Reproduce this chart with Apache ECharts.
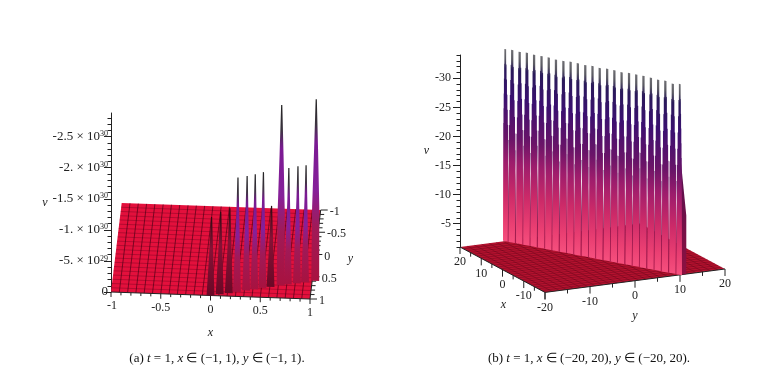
<!DOCTYPE html>
<html>
<head>
<meta charset="utf-8">
<style>html,body{margin:0;padding:0;background:#fff}#main{width:780px;height:385px}</style>
<script src="https://cdn.jsdelivr.net/npm/echarts@6/dist/echarts.min.js"></script>
</head>
<body>
<div id="main"></div>
<script>
// panel (a) values
var aPeakX = [0, 0.09, 0.18, 0.26, 0.35, 0.43, 0.51, 0.59, 0.69, 0.76, 0.85, 0.93, 1.03];
var aPeakY = [0.8, 0.76, 0.73, 0.7, 0.66, 0.63, 0.59, 0.56, 0.52, 0.49, 0.46, 0.43, 0.39];
var aPeakV = [-1.12e30, -1.18e30, -1.22e30, -1.7e30, -1.7e30, -1.71e30, -1.72e30, -1.16e30, -2.76e30, -1.73e30, -1.74e30, -1.74e30, -2.78e30];
var aVTicks = [-2.5e30, -2e30, -1.5e30, -1e30, -5e29, 0];
var aVLabels = ['{m|-2.5 × 10}{s|30}', '{m|-2. × 10}{s|30}', '{m|-1.5 × 10}{s|30}', '{m|-1. × 10}{s|30}', '{m|-5. × 10}{s|29}', '{m|0}'];
var aXTicks = [-1, -0.5, 0, 0.5, 1];
var aXLabels = ['-1', '-0.5', '0', '0.5', '1'];
var aYTicks = [-1, -0.5, 0, 0.5, 1];
var aYLabels = ['-1', '-0.5', '0', '0.5', '1'];

// panel (b) values
var bPeakX = [20, 18.3, 16.7, 15, 13.3, 11.7, 10, 8.3, 6.7, 5, 3.3, 1.7, 0, -1.7, -3.3, -5, -6.7, -8.3, -10, -11.7, -13.3, -15, -16.7, -18.3, -20];
var bPeakY = [-10, -9.2, -8.3, -7.5, -6.7, -5.8, -5, -4.2, -3.3, -2.5, -1.7, -0.8, 0, 0.8, 1.7, 2.5, 3.3, 4.2, 5, 5.8, 6.7, 7.5, 8.3, 9.2, 10];
var bPeakV = [-34, -34.1, -34, -34.1, -34, -34, -34, -33.9, -33.9, -34, -34, -33.9, -34, -33.9, -34, -34, -33.9, -34, -34, -34, -33.9, -33.8, -33.9, -33.6, -33.8];
var bValleyV = [-18.5, -17, -18, -17, -18.5, -17, -18, -16.5, -18, -16.5, -17.5, -16.5, -18, -16.5, -17.5, -16.5, -17.5, -16.5, -18, -16.5, -18, -16.5, -17.5, -17];
var bVTicks = [-30, -25, -20, -15, -10, -5];
var bVLabels = ['{n|-30}', '{n|-25}', '{n|-20}', '{n|-15}', '{n|-10}', '{n|-5}'];
var bXTicks = [20, 10, 0, -10, -20];
var bXLabels = ['20', '10', '0', '-10', '-20'];
var bYTicks = [-20, -10, 0, 10, 20];
var bYLabels = ['', '-10', '0', '10', '20'];

var serif = '"Liberation Serif", serif';
var LG = echarts.graphic.LinearGradient;

// oblique views: the grid gives x/y-to-pixel and v-to-pixel, the depth axis is a shear on top
function projA(api, x, y, v) {
    var p = api.coord([x, v]);
    var s = (1 - y) / 2, t = (x + 1) / 2;
    return [p[0] + s * 10.7, p[1] + t * 7 - s * 89];
}
function projB(api, x, y, v) {
    var p = api.coord([y, v]);
    var s = (20 - x) / 40, t = (y + 20) / 40;
    return [p[0] + s * 85, p[1] + s * 45.4 - t * 23.4];
}

function poly(points, fill) {
    return {type: 'polygon', shape: {points: points}, style: {fill: fill}};
}
function seg(a, b, color, w) {
    return {type: 'line', shape: {x1: a[0], y1: a[1], x2: b[0], y2: b[1]}, style: {stroke: color, lineWidth: w || 1, fill: null}};
}
function label(text, p, align, italic) {
    return {type: 'text', style: {
        text: text, x: p[0], y: p[1], fill: '#222',
        font: (italic ? 'italic ' : '') + '12px ' + serif,
        textAlign: align || 'center', textVerticalAlign: 'middle'
    }};
}

function floorItem(proj, x0, x1, y0, y1, vBase, nx, ny, fill, colX, colY) {
    return function (params, api) {
        var kids = [poly([proj(api, x0, y0, vBase), proj(api, x1, y0, vBase), proj(api, x1, y1, vBase), proj(api, x0, y1, vBase)], fill)];
        var i, f;
        for (i = 1; i < ny; i++) {
            f = y0 + (y1 - y0) * i / ny;
            kids.push(seg(proj(api, x0, f, vBase), proj(api, x1, f, vBase), colY, 1));
        }
        for (i = 1; i < nx; i++) {
            f = x0 + (x1 - x0) * i / nx;
            kids.push(seg(proj(api, f, y0, vBase), proj(api, f, y1, vBase), colX, 1));
        }
        return {type: 'group', children: kids};
    };
}

// x and y axes of panel (a): x along the front edge, y up the right edge
function axesA(params, api) {
    var kids = [], i, p;
    kids.push(seg(projA(api, -1, 1, 0), projA(api, 1, 1, 0), '#222', 1));
    kids.push(seg(projA(api, 1, 1, 0), projA(api, 1, -1, 0), '#222', 1));
    for (i = 0; i <= 20; i++) {
        p = projA(api, -1 + i * 0.1, 1, 0);
        kids.push(seg(p, [p[0], p[1] + (i % 5 ? 3 : 5)], '#222', 1));
        p = projA(api, 1, 1 - i * 0.1, 0);
        kids.push(seg(p, [p[0] + (i % 5 ? 4 : 7), p[1]], '#222', 1));
    }
    for (i = 0; i < aXTicks.length; i++) {
        p = projA(api, aXTicks[i], 1, 0);
        kids.push(label(aXLabels[i], [p[0] + (i ? 0 : 1), p[1] + 14]));
        p = projA(api, 1, aYTicks[i], 0);
        kids.push(label(aYLabels[i], [p[0] + 9, p[1] + 2], 'left'));
    }
    p = projA(api, 0, 1, 0);
    kids.push(label('x', [p[0], p[1] + 37], 'center', true));
    p = projA(api, 1, 0, 0);
    kids.push(label('y', [p[0] + 35, p[1] + 4], 'center', true));
    return {type: 'group', children: kids};
}

var aTallStops = [
    {offset: 0, color: '#a8123f'}, {offset: 0.3, color: '#a01a58'}, {offset: 0.5, color: '#86209a'},
    {offset: 0.76, color: '#7a1a92'}, {offset: 0.86, color: '#3c3440'}, {offset: 1, color: '#222'}
];
var aShortStops = [
    {offset: 0, color: '#6a0826'}, {offset: 0.6, color: '#861236'}, {offset: 1, color: '#2a0a10'}
];

function spikeA(params, api) {
    var x = api.value(0), y = api.value(1), v = api.value(2);
    var yb = y + 0.2, w = 0.04;
    var k = v < -2e30 ? 1.5 : 1;    // the two tallest are visibly fatter
    var tl = projA(api, x - 0.006, y, v), tr = projA(api, x + 0.006, y, v);
    var bl = projA(api, x - w, yb, 0), br = projA(api, x + w, yb, 0);
    var ml = projA(api, x - w * 0.6 * k, y + 0.1, v * 0.4), mr = projA(api, x + w * 0.6 * k, y + 0.1, v * 0.4);
    var ul = projA(api, x - w * 0.33 * k, y + 0.03, v * 0.72), ur = projA(api, x + w * 0.33 * k, y + 0.03, v * 0.72);
    var stops = v > -1.3e30 ? aShortStops : aTallStops;
    return poly([bl, ml, ul, tl, tr, ur, mr, br], new LG(0, 1, 0, 0, stops));
}

// x and y axes of panel (b): both run to the front corner
function axesB(params, api) {
    var kids = [], i, p, v0 = -1;
    kids.push(seg(projB(api, 20, -20, v0), projB(api, -20, -20, v0), '#222', 1));
    kids.push(seg(projB(api, -20, -20, v0), projB(api, -20, 20, v0), '#222', 1));
    for (i = 0; i <= 8; i++) {
        p = projB(api, 20 - i * 5, -20, v0);
        kids.push(seg(p, [p[0], p[1] + (i % 2 ? 4 : 7)], '#222', 1));
        p = projB(api, -20, -20 + i * 5, v0);
        kids.push(seg(p, [p[0], p[1] + (i % 2 ? 4 : 7)], '#222', 1));
    }
    for (i = 0; i < bXTicks.length; i++) {
        p = projB(api, bXTicks[i], -20, v0);
        kids.push(label(bXLabels[i], [p[0], p[1] + 15]));
        if (bYLabels[i]) {
            p = projB(api, -20, bYTicks[i], v0);
            kids.push(label(bYLabels[i], [p[0], p[1] + 15]));
        }
    }
    p = projB(api, 0, -20, v0);
    kids.push(label('x', [p[0] + 1, p[1] + 35], 'center', true));
    p = projB(api, -20, 0, v0);
    kids.push(label('y', [p[0], p[1] + 35], 'center', true));
    return {type: 'group', children: kids};
}

var bStops = [
    {offset: 0, color: '#f6507e'}, {offset: 0.1, color: '#ea3f72'}, {offset: 0.25, color: '#cc2a68'},
    {offset: 0.42, color: '#9c1c6c'}, {offset: 0.54, color: '#6a1468'}, {offset: 0.75, color: '#3a1070'},
    {offset: 0.9, color: '#2a1a5a'}, {offset: 0.95, color: '#5a5a62'}, {offset: 1, color: '#707074'}
];
var bSeamStops = [
    {offset: 0, color: 'rgba(165,20,70,0.9)'}, {offset: 0.5, color: 'rgba(105,15,75,0.85)'}, {offset: 1, color: 'rgba(60,15,90,0.75)'}
];
var bLightStops = [
    {offset: 0, color: 'rgba(255,190,205,0.45)'}, {offset: 1, color: 'rgba(240,150,190,0.12)'}
];

function spikeB(params, api) {
    var i = params.dataIndex;
    var x = api.value(0), y = api.value(1), v = api.value(2);
    var dx = 0.83, dy = 0.42, v0 = -1, steps = 6;
    var last = bValleyV.length;
    var vl = i > 0 ? bValleyV[i - 1] : v * 0.55;
    var vr = i < last ? bValleyV[i] : v * 0.55;
    // the two end spikes have no neighbour, so their outer side stays narrow
    var dl = i > 0 ? dx : dx * 0.55;
    var dr = i < last ? dx : dx * 0.55;
    var left = [projB(api, x + dl, y - dl / 2, v0)], right = [projB(api, x - dr, y + dr / 2, v0)];
    var k, f, wl, wr, vA, vB, vC, vD;
    // staircase profile from the valley up to the tip, one step per mesh row
    for (k = 0; k < steps; k++) {
        f = k / steps;
        wl = dl * (0.88 - 0.68 * f);
        wr = dr * (0.88 - 0.68 * f);
        vA = vl + (v - vl) * f;
        vB = vl + (v - vl) * (k + 1) / steps;
        vC = vr + (v - vr) * f;
        vD = vr + (v - vr) * (k + 1) / steps;
        left.push(projB(api, x + wl, y - wl / 2, vA), projB(api, x + wl, y - wl / 2, vB));
        right.push(projB(api, x - wr, y + wr / 2, vC), projB(api, x - wr, y + wr / 2, vD));
    }
    var pts = left.concat(right.reverse());
    var kids = [poly(pts, new LG(0, 1, 0, 0, bStops))];
    if (i < last) {
        kids.push(poly([
            projB(api, x - dx * 1.28, y + dy * 1.28, v0),
            projB(api, x - dx * 0.92, y + dy * 0.92, vr),
            projB(api, x - dx * 1.08, y + dy * 1.08, vr),
            projB(api, x - dx * 0.72, y + dy * 0.72, v0)
        ], new LG(0, 1, 0, 0, bSeamStops)));
        kids.push(poly([
            projB(api, x - dx * 1.5, y + dy * 1.5, v0),
            projB(api, x - dx * 1.1, y + dy * 1.1, vr),
            projB(api, x - dx * 1.2, y + dy * 1.2, vr),
            projB(api, x - dx * 1.3, y + dy * 1.3, v0)
        ], new LG(0, 1, 0, 0, bLightStops)));
    }
    return {type: 'group', children: kids};
}

// dark side of the wall at the y = 10 end of the ridge
function capB(params, api) {
    var x = -20, y = 10, v0 = -1;
    return poly([
        projB(api, x, y, v0), projB(api, x, y + 1.4, v0),
        projB(api, x, y + 1.4, -11), projB(api, x, y, -22)
    ], new LG(0, 1, 0, 0, [{offset: 0, color: '#8e1040'}, {offset: 1, color: '#4d1050'}]));
}

function zip(a, b, c) {
    return a.map(function (d, i) { return [d, b[i], c[i]]; });
}
function minorTicks(from, step, n) {
    var out = [];
    for (var i = 0; i <= n; i++) out.push(from + i * step);
    return out;
}
function vLabelFormatter(ticks, labels) {
    return function (value) {
        for (var i = 0; i < ticks.length; i++) {
            if (Math.abs(value - ticks[i]) <= Math.abs(ticks[0]) * 1e-6) return labels[i];
        }
        return '';
    };
}

var richV = {
    m: {fontFamily: serif, fontSize: 13, color: '#222'},
    n: {fontFamily: serif, fontSize: 12, color: '#222'},
    s: {fontFamily: serif, fontSize: 8, color: '#222', verticalAlign: 'top', lineHeight: 12, padding: [0, 0, 6, 0]}
};
var capRich = {
    n: {fontFamily: serif, fontSize: 13, fontWeight: 'normal', color: '#111'},
    i: {fontFamily: serif, fontSize: 13, fontWeight: 'normal', fontStyle: 'italic', color: '#111'}
};

function vAxis(grid, min, max, ticks, labels, gap, margin) {
    return {
        type: 'value', gridIndex: grid, inverse: true, min: min, max: max, position: 'left',
        name: 'v', nameLocation: 'middle', nameGap: gap, nameRotate: 0,
        nameTextStyle: {fontFamily: serif, fontStyle: 'italic', fontSize: 12, color: '#222'},
        axisLine: {show: true, onZero: false, lineStyle: {color: '#222'}},
        axisTick: {show: true, length: 7, customValues: ticks, lineStyle: {color: '#222'}},
        axisLabel: {show: true, margin: margin, customValues: ticks, rich: richV, formatter: vLabelFormatter(ticks, labels)},
        splitLine: {show: false}
    };
}
function vMinorAxis(grid, min, max, ticks) {
    return {
        type: 'value', gridIndex: grid, inverse: true, min: min, max: max, position: 'left',
        axisLine: {show: false, onZero: false},
        axisTick: {show: true, length: 3.5, customValues: ticks, lineStyle: {color: '#222'}},
        axisLabel: {show: false},
        splitLine: {show: false}
    };
}

var chart = echarts.init(document.getElementById('main'));
var option = {
    backgroundColor: '#fff',
    animation: false,
    title: [{
        text: '{n|(a) }{i|t}{n| = 1, }{i|x}{n| ∈ (−1, 1), }{i|y}{n| ∈ (−1, 1).}',
        left: 217, top: 352, textAlign: 'center', padding: 0,
        textStyle: {fontWeight: 'normal', rich: capRich}
    }, {
        text: '{n|(b) }{i|t}{n| = 1, }{i|x}{n| ∈ (−20, 20), }{i|y}{n| ∈ (−20, 20).}',
        left: 589, top: 352, textAlign: 'center', padding: 0,
        textStyle: {fontWeight: 'normal', rich: capRich}
    }],
    grid: [
        {left: 111, top: 113, width: 199, height: 179},
        {left: 460, top: 55, width: 180, height: 192}
    ],
    xAxis: [
        {type: 'value', gridIndex: 0, min: -1, max: 1, show: false},
        {type: 'value', gridIndex: 1, min: -20, max: 20, show: false}
    ],
    yAxis: [
        vAxis(0, -2.88e30, 0, aVTicks, aVLabels, 62, 3),
        vAxis(1, -34, -1, bVTicks, bVLabels, 31, 9),
        vMinorAxis(0, -2.88e30, 0, minorTicks(-2.8e30, 1e29, 28)),
        vMinorAxis(1, -34, -1, minorTicks(-34, 1, 33))
    ],
    series: [
        {type: 'custom', name: 'floor a', xAxisIndex: 0, yAxisIndex: 0, data: [0], z: 2,
            renderItem: floorItem(projA, -1, 1, -1, 1, 0, 24, 21, '#e3103c', 'rgba(70,0,20,0.65)', 'rgba(90,0,25,0.35)')},
        {type: 'custom', name: 'axes a', xAxisIndex: 0, yAxisIndex: 0, data: [0], z: 3, renderItem: axesA},
        {type: 'custom', name: 'v a', xAxisIndex: 0, yAxisIndex: 0, data: zip(aPeakX, aPeakY, aPeakV), z: 4, renderItem: spikeA},
        {type: 'custom', name: 'floor b', xAxisIndex: 1, yAxisIndex: 1, data: [0], z: 2,
            renderItem: floorItem(projB, -20, 20, -20, 20, -1, 25, 25, '#b5122f', 'rgba(70,0,15,0.3)', 'rgba(70,0,15,0.3)')},
        {type: 'custom', name: 'axes b', xAxisIndex: 1, yAxisIndex: 1, data: [0], z: 3, renderItem: axesB},
        {type: 'custom', name: 'cap b', xAxisIndex: 1, yAxisIndex: 1, data: [0], z: 4, renderItem: capB},
        {type: 'custom', name: 'v b', xAxisIndex: 1, yAxisIndex: 1, data: zip(bPeakX, bPeakY, bPeakV), z: 5, renderItem: spikeB}
    ]
};
chart.setOption(option);
</script>
</body>
</html>
